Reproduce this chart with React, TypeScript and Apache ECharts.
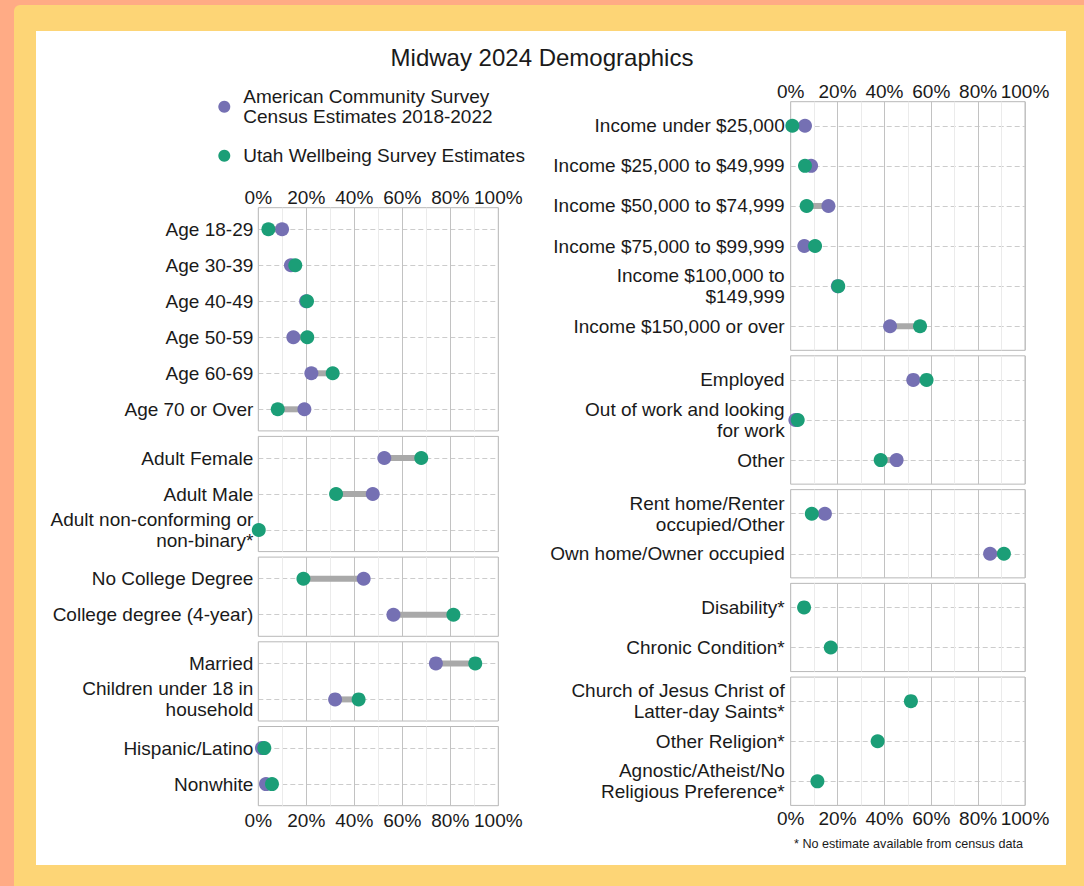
import React, { useEffect, useRef } from 'react';
import * as echarts from 'echarts';

const ACS_NAME = 'American Community Survey\nCensus Estimates 2018-2022';
const UWS_NAME = 'Utah Wellbeing Survey Estimates';
const TITLE = 'Midway 2024 Demographics';
const FOOTNOTE = '* No estimate available from census data';

// ---- Left column ----
const ageCats = ['Age 18-29', 'Age 30-39', 'Age 40-49', 'Age 50-59', 'Age 60-69', 'Age 70 or Over'];
const ageACS = [9.9, 13.6, 19.9, 14.6, 22.1, 19.2];
const ageUWS = [4.2, 15.4, 20.3, 20.4, 31.0, 8.1];

const genderCats = ['Adult Female', 'Adult Male', 'Adult non-conforming or\nnon-binary*'];
const genderACS = [52.5, 47.7, null];
const genderUWS = [67.9, 32.4, 0.2];

const eduCats = ['No College Degree', 'College degree (4-year)'];
const eduACS = [43.9, 56.3];
const eduUWS = [18.8, 81.3];

const familyCats = ['Married', 'Children under 18 in\nhousehold'];
const familyACS = [74.0, 32.0];
const familyUWS = [90.4, 41.8];

const ethCats = ['Hispanic/Latino', 'Nonwhite'];
const ethACS = [1.5, 3.2];
const ethUWS = [2.5, 5.7];

// ---- Right column ----
const incomeCats = [
  'Income under $25,000',
  'Income $25,000 to $49,999',
  'Income $50,000 to $74,999',
  'Income $75,000 to $99,999',
  'Income $100,000 to\n$149,999',
  'Income $150,000 or over',
];
const incomeACS = [6.1, 8.7, 16.1, 5.8, 20.1, 42.4];
const incomeUWS = [0.7, 6.1, 6.8, 10.4, 20.3, 55.2];

const workCats = ['Employed', 'Out of work and looking\nfor work', 'Other'];
const workACS = [52.3, 2.0, 45.2];
const workUWS = [58.0, 3.0, 38.4];

const homeCats = ['Rent home/Renter\noccupied/Other', 'Own home/Owner occupied'];
const homeACS = [14.6, 85.1];
const homeUWS = [9.0, 91.0];

const healthCats = ['Disability*', 'Chronic Condition*'];
const healthACS = [null, null];
const healthUWS = [5.7, 17.1];

const religionCats = [
  'Church of Jesus Christ of\nLatter-day Saints*',
  'Other Religion*',
  'Agnostic/Atheist/No\nReligious Preference*',
];
const religionACS = [null, null, null];
const religionUWS = [51.3, 37.1, 11.4];

const X_MIN = 0;
const X_MAX = 100;
const X_INTERVAL = 20;

type Panel = { cats: string[]; acs: (number | null)[]; uws: (number | null)[] };

const leftPanels: Panel[] = [
  { cats: ageCats, acs: ageACS, uws: ageUWS },
  { cats: genderCats, acs: genderACS, uws: genderUWS },
  { cats: eduCats, acs: eduACS, uws: eduUWS },
  { cats: familyCats, acs: familyACS, uws: familyUWS },
  { cats: ethCats, acs: ethACS, uws: ethUWS },
];
const rightPanels: Panel[] = [
  { cats: incomeCats, acs: incomeACS, uws: incomeUWS },
  { cats: workCats, acs: workACS, uws: workUWS },
  { cats: homeCats, acs: homeACS, uws: homeUWS },
  { cats: healthCats, acs: healthACS, uws: healthUWS },
  { cats: religionCats, acs: religionACS, uws: religionUWS },
];

const FONT = "'Liberation Sans', Arial, Helvetica, sans-serif";
const TEXT = '#1a1a1a';
const PURPLE = '#7570b3';
const GREEN = '#1b9e77';

function buildOption() {
  const grid: any[] = [];
  const xAxis: any[] = [];
  const yAxis: any[] = [];
  const series: any[] = [];

  const columns = [
    { panels: leftPanels, left: 258.3, width: 240, top: 207.7, step: 36, gap: 5.5, topMargin: 1, bottomMargin: 5, yMargin: 5 },
    { panels: rightPanels, left: 790.7, width: 234.3, top: 101.7, step: 40.1, gap: 5.5, topMargin: 1, bottomMargin: 4, yMargin: 6 },
  ];

  columns.forEach((col) => {
    let y = col.top;
    col.panels.forEach((p, pi) => {
      const n = p.cats.length;
      const h = (n - 1 + 1.2) * col.step;
      const k = grid.length;
      grid.push({
        left: col.left,
        top: y,
        width: col.width,
        height: h,
        show: true,
        borderColor: '#b8b8b8',
        borderWidth: 1,
        backgroundColor: 'transparent',
        containLabel: false,
        outerBoundsMode: 'none',
      });
      y += h + col.gap;
      const isFirst = pi === 0;
      const isLast = pi === col.panels.length - 1;
      xAxis.push({
        gridIndex: k,
        type: 'value',
        min: X_MIN,
        max: X_MAX,
        interval: X_INTERVAL,
        position: isFirst ? 'top' : 'bottom',
        axisLine: { show: false },
        axisTick: { show: false },
        axisLabel: {
          show: isFirst || isLast,
          formatter: '{value}%',
          fontSize: 19,
          fontFamily: FONT,
          color: TEXT,
          margin: isFirst ? col.topMargin : col.bottomMargin,
          showMinLabel: true,
          showMaxLabel: true,
        },
        splitLine: { show: true, lineStyle: { color: '#c2c2c2', width: 1 } },
        minorTick: { show: false, splitNumber: 2 },
        minorSplitLine: { show: true, lineStyle: { color: '#ebebeb', width: 1 } },
      });
      const idx = p.cats.map((_, i) => i);
      yAxis.push({
        gridIndex: k,
        type: 'value',
        inverse: true,
        min: -0.6,
        max: n - 0.4,
        axisLine: { show: false },
        axisTick: { show: false, customValues: idx },
        axisLabel: {
          customValues: idx,
          formatter: (v: number) => p.cats[Math.round(v)] ?? '',
          fontSize: 19,
          lineHeight: 21,
          fontFamily: FONT,
          color: TEXT,
          margin: col.yMargin,
          align: 'right',
        },
        splitLine: { show: true, lineStyle: { color: '#cccccc', width: 1, type: [5, 3] } },
      });

      const pairData = p.cats.flatMap((_, i) =>
        p.acs[i] != null && p.uws[i] != null ? [[p.acs[i], p.uws[i], i]] : []
      );
      series.push({
        type: 'custom',
        name: 'gap',
        xAxisIndex: k,
        yAxisIndex: k,
        silent: true,
        z: 1,
        encode: { x: [0, 1], y: 2 },
        data: pairData,
        renderItem: (_params: any, api: any) => {
          const a = api.coord([api.value(0), api.value(2)]);
          const b = api.coord([api.value(1), api.value(2)]);
          return {
            type: 'line',
            shape: { x1: a[0], y1: a[1], x2: b[0], y2: b[1] },
            style: { stroke: '#a9a9a9', lineWidth: 6 },
          };
        },
      });
      series.push({
        type: 'scatter',
        name: ACS_NAME,
        xAxisIndex: k,
        yAxisIndex: k,
        symbol: 'circle',
        symbolSize: 14,
        z: 3,
        itemStyle: { color: PURPLE, opacity: 1 },
        data: p.cats.flatMap((_, i) => (p.acs[i] != null ? [[p.acs[i], i]] : [])),
      });
      series.push({
        type: 'scatter',
        name: UWS_NAME,
        xAxisIndex: k,
        yAxisIndex: k,
        symbol: 'circle',
        symbolSize: 14,
        z: 4,
        itemStyle: { color: GREEN, opacity: 1 },
        data: p.cats.flatMap((_, i) => (p.uws[i] != null ? [[p.uws[i], i]] : [])),
      });
    });
  });

  return {
    animation: false,
    backgroundColor: '#FFAB85',
    textStyle: { fontFamily: FONT },
    graphic: [
      { type: 'rect', z: -10, silent: true, shape: { x: 14, y: 5, width: 1090, height: 900, r: 6 }, style: { fill: '#FDD576' } },
      { type: 'rect', z: -9, silent: true, shape: { x: 36, y: 31, width: 1030, height: 834 }, style: { fill: '#ffffff' } },
    ],
    title: [
      {
        text: TITLE,
        left: 'center',
        top: 45,
        padding: 0,
        textStyle: { fontSize: 24, fontWeight: 'normal', color: TEXT, fontFamily: FONT, lineHeight: 24 },
      },
      {
        text: FOOTNOTE,
        left: 794,
        top: 837,
        padding: 0,
        textStyle: { fontSize: 12.6, fontWeight: 'normal', color: TEXT, fontFamily: FONT, lineHeight: 13 },
      },
    ],
    legend: {
      orient: 'vertical',
      left: 218.3,
      top: 86.7,
      padding: 0,
      itemWidth: 28,
      itemHeight: 12,
      itemGap: 19,
      icon: 'circle',
      selectedMode: false,
      data: [ACS_NAME, UWS_NAME],
      textStyle: { fontSize: 19, lineHeight: 20, color: TEXT, fontFamily: FONT },
    },
    tooltip: { show: false },
    grid,
    xAxis,
    yAxis,
    series,
  };
}

export default function App() {
  const ref = useRef<HTMLDivElement>(null);
  useEffect(() => {
    document.body.style.margin = '0';
    if (!ref.current) return;
    const chart = echarts.init(ref.current, undefined, { renderer: 'svg' });
    chart.setOption(buildOption() as any);
    return () => chart.dispose();
  }, []);
  return <div ref={ref} style={{ width: 1084, height: 886 }} />;
}
